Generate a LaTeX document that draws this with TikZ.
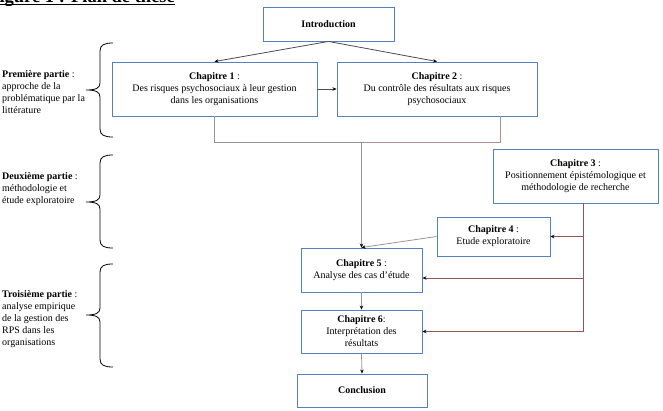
\documentclass[tikz,border=0pt]{standalone}
\usepackage{fontspec}
\setmainfont{Liberation Serif}
\usetikzlibrary{arrows.meta}

\definecolor{boxblue}{RGB}{84,130,190}
\definecolor{linegray}{RGB}{150,150,150}
\definecolor{linerose}{RGB}{175,145,145}
\definecolor{linebrown}{RGB}{150,85,85}

\tikzset{
  chapbox/.style={draw=boxblue, line width=0.9pt, align=center, inner sep=0pt,
    font=\fontsize{10}{12}\selectfont},
  parttext/.style={anchor=north west, align=left, inner sep=0pt,
    font=\fontsize{10}{12}\selectfont},
  link/.style={->, draw=linegray, line width=0.8pt},
}

\begin{document}
\begin{tikzpicture}[x=1pt,y=-1pt,>={Stealth[length=4pt,width=3.5pt,color=black]}]
        \useasboundingbox (0,0) rectangle (663,411);
        % Title, cut by the page edge
        \node[anchor=base west, inner sep=0pt, font=\fontsize{18.5}{22}\selectfont\bfseries] (title) at (-12,2.5) {Figure 1 : Plan de thèse};
        \draw[line width=1.2pt] ([yshift=-1.8pt]title.base west) -- ([yshift=-1.8pt]title.base east);
        % Chapter boxes
        \node[chapbox, minimum width=131pt, minimum height=34pt] (intro) at (328.5,24) {\textbf{Introduction}};
        \node[chapbox, minimum width=205pt, minimum height=54pt] (ch1) at (214.5,89) {\textbf{Chapitre 1} :\\Des risques psychosociaux à leur gestion\\dans les organisations};
        \node[chapbox, minimum width=200pt, minimum height=54pt] (ch2) at (437,89) {\textbf{Chapitre 2} :\\Du contrôle des résultats aux risques\\psychosociaux};
        \node[chapbox, minimum width=165pt, minimum height=54pt] (ch3) at (575.5,176) {\textbf{Chapitre 3} :\\Positionnement épistémologique et\\méthodologie de recherche};
        \node[chapbox, minimum width=113pt, minimum height=39pt] (ch4) at (493.5,236.5) {\textbf{Chapitre 4} :\\Etude exploratoire};
        \node[chapbox, minimum width=121pt, minimum height=44pt] (ch5) at (361.5,270) {\textbf{Chapitre 5} :\\Analyse des cas d’étude};
        \node[chapbox, minimum width=121pt, minimum height=43pt] (ch6) at (361.5,331.5) {\textbf{Chapitre 6}:\\Interprétation des\\résultats};
        \node[chapbox, minimum width=130pt, minimum height=33pt] (concl) at (362,390.5) {\textbf{Conclusion}};
        % Parts on the left
        \node[parttext] (part1) at (2,70) {\textbf{Première partie} :\\approche de la\\problématique par la\\littérature};
        \node[parttext] (part2) at (2,172) {\textbf{Deuxième partie} :\\méthodologie et\\étude exploratoire};
        \node[parttext] (part3) at (2,290) {\textbf{Troisième partie} :\\analyse empirique\\de la gestion des\\RPS dans les\\organisations};
        % Braces
        \foreach \ytop/\ytip/\ybot in {43/90/137, 155/202/248, 264/315/367} {
            \draw[line width=0.8pt] (113,\ytop) .. controls (104,\ytop) and (100,\ytop+2) .. (100,\ytop+8)
                -- (100,\ytip-7) .. controls (100,\ytip-2) and (96,\ytip) .. (86,\ytip)
                .. controls (96,\ytip) and (100,\ytip+2) .. (100,\ytip+7)
                -- (100,\ybot-8) .. controls (100,\ybot-2) and (104,\ybot) .. (113,\ybot);
        }
        % Introduction to chapters 1 and 2
        \draw[link, draw=black!70] (intro.south) -- (ch1.north);
        \draw[link, draw=black!70] (intro.south) -- (ch2.north);
        \draw[link, draw=black!70] (ch1.east) -- (ch2.west);
        % Chapters 1 and 2 lead to chapter 5
        \coordinate (merge) at (ch5.north |- 0,142);
        \draw[linegray, line width=0.8pt] (ch1.south) |- (merge);
        \draw[linerose, line width=0.8pt] ([xshift=63pt]ch2.south) |- (merge);
        \draw[link] (merge) -- (ch5.north);
        % Chapter 3 feeds chapters 4 to 6
        \coordinate (feed) at ([xshift=7.5pt]ch3.south);
        \coordinate (ch5in) at ([yshift=-8pt]ch5.east);
        \draw[linebrown, line width=0.8pt] (feed) -- (feed |- ch6.east);
        \draw[link, draw=linebrown] (feed |- ch4.east) -- (ch4.east);
        \draw[link, draw=linebrown] (feed |- ch5in) -- (ch5in);
        \draw[link, draw=linebrown] (feed |- ch6.east) -- (ch6.east);
        % Main sequence
        \draw[link] (ch4.west) -- (ch5.north);
        \draw[link] (ch5.south) -- (ch6.north);
        \draw[link] (ch6.south) -- (concl.north);
\end{tikzpicture}
\end{document}
